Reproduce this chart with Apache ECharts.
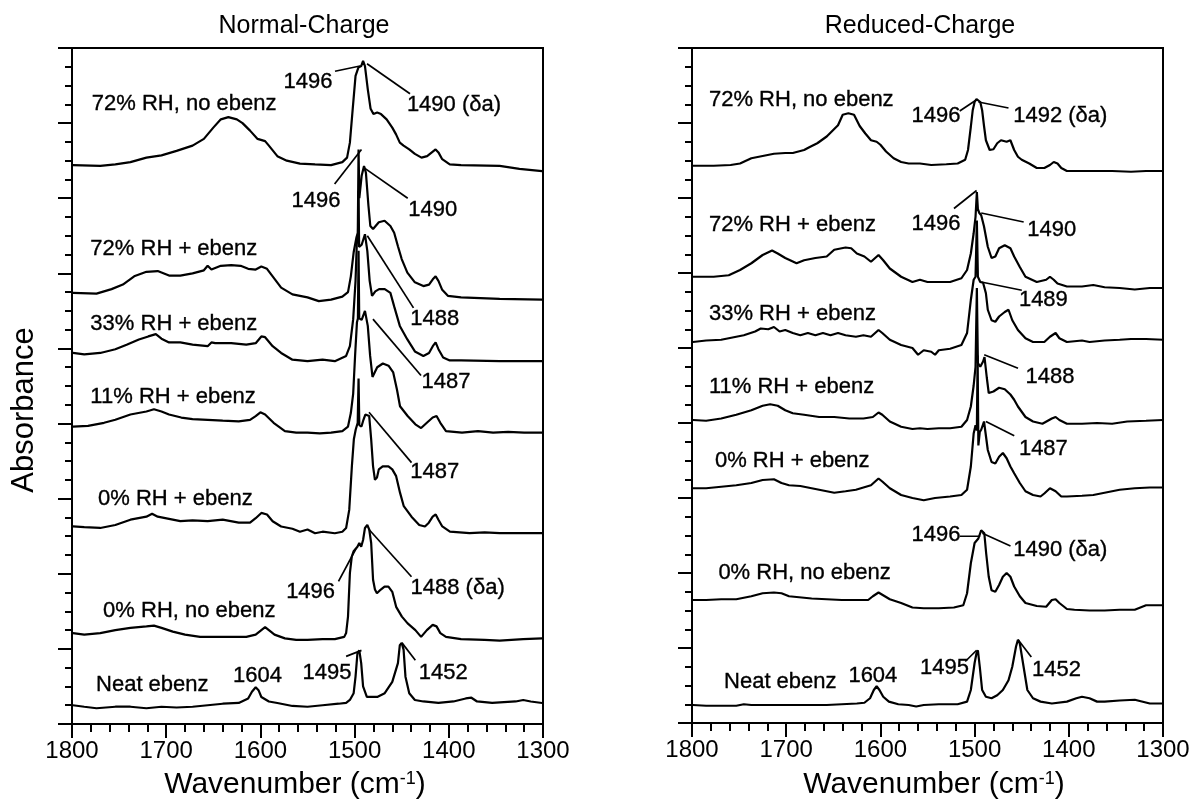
<!DOCTYPE html>
<html>
<head>
<meta charset="utf-8">
<script src="https://cdn.jsdelivr.net/npm/echarts@6/dist/echarts.min.js"></script>
<style>html,body{margin:0;padding:0;background:#fff}#chart{width:1193px;height:801px}</style>
</head>
<body>
<div id="chart"></div>
<script>
// ---------- DATA (wavenumber cm-1, stacked absorbance in axis units) ----------
const panelTitles = ['Normal-Charge', 'Reduced-Charge'];
const xTicks = [1800, 1700, 1600, 1500, 1400, 1300];

// Left panel: Normal-Charge
const N_72_noEbenz = [[1799,7.44],[1770,7.43],[1754,7.45],[1738,7.48],[1721,7.54],[1705,7.57],[1689,7.63],[1672,7.70],[1660,7.79],[1650,7.94],[1642,8.05],[1634,8.08],[1625,8.05],[1619,8.00],[1611,7.90],[1603,7.79],[1595,7.76],[1591,7.70],[1582,7.56],[1572,7.50],[1558,7.46],[1542,7.45],[1525,7.44],[1513,7.48],[1508,7.54],[1505,7.74],[1502,8.19],[1499,8.63],[1496,8.74],[1493,8.76],[1491,8.83],[1489,8.76],[1486,8.45],[1483,8.19],[1480,8.12],[1476,8.14],[1472,8.12],[1466,8.05],[1460,7.94],[1456,7.85],[1452,7.74],[1448,7.70],[1442,7.65],[1436,7.59],[1429,7.54],[1423,7.56],[1418,7.61],[1414,7.65],[1411,7.61],[1407,7.52],[1399,7.45],[1387,7.44],[1346,7.43],[1325,7.39],[1301,7.36]];
const N_72_ebenz = [[1799,5.74],[1774,5.73],[1758,5.79],[1746,5.85],[1734,5.96],[1721,6.02],[1709,6.03],[1697,5.97],[1685,5.97],[1672,6.00],[1660,6.04],[1656,6.10],[1652,6.05],[1642,6.10],[1631,6.11],[1621,6.10],[1613,6.06],[1605,6.05],[1599,6.09],[1593,6.06],[1587,5.96],[1578,5.81],[1566,5.72],[1550,5.68],[1538,5.63],[1525,5.65],[1513,5.69],[1507,5.75],[1504,5.96],[1501,6.28],[1498,6.48],[1496.6,6.54],[1495.8,7.65],[1495,7.0],[1492.5,7.3],[1490,7.43],[1488,7.34],[1485.3,6.9],[1483.3,6.63],[1480.4,6.59],[1474.3,6.68],[1468.2,6.70],[1462,6.63],[1458,6.54],[1454,6.36],[1450,6.19],[1444,6.01],[1436,5.88],[1427,5.83],[1421,5.85],[1417,5.92],[1414,5.96],[1411,5.90],[1407,5.78],[1401,5.70],[1387,5.68],[1346,5.66],[1301,5.65]];
const N_33_ebenz = [[1799,4.94],[1787,4.92],[1770,4.94],[1754,4.99],[1742,5.05],[1729,5.12],[1719,5.16],[1711,5.19],[1705,5.13],[1697,5.08],[1685,5.08],[1672,5.05],[1656,5.03],[1652,5.08],[1648,5.07],[1631,5.07],[1615,5.05],[1605,5.07],[1599,5.16],[1595,5.15],[1587,5.03],[1578,4.94],[1566,4.85],[1550,4.83],[1534,4.85],[1521,4.83],[1509,4.90],[1505,5.03],[1501.5,5.39],[1499,5.9],[1497.5,6.45],[1496.5,6.4],[1495.8,7.1],[1495.2,6.35],[1492.5,6.38],[1489,6.52],[1486.5,6.3],[1484,5.9],[1481.5,5.70],[1478,5.76],[1474,5.79],[1468,5.79],[1462,5.74],[1458,5.56],[1452,5.30],[1444,5.12],[1436,4.96],[1427,4.90],[1421,4.94],[1417,5.03],[1414,5.08],[1411,4.99],[1406,4.88],[1399,4.84],[1387,4.84],[1346,4.83],[1301,4.83]];
const N_11_ebenz = [[1799,3.96],[1783,3.97],[1766,4.01],[1754,4.05],[1738,4.12],[1721,4.16],[1713,4.19],[1705,4.16],[1697,4.12],[1684,4.08],[1672,4.06],[1656,4.05],[1640,4.04],[1623,4.03],[1611,4.05],[1605,4.10],[1600,4.15],[1595,4.12],[1586,4.01],[1574,3.90],[1562,3.88],[1550,3.88],[1537,3.87],[1525,3.88],[1513,3.90],[1507,3.96],[1504,4.14],[1501.5,4.4],[1499.5,4.9],[1497.5,5.35],[1496.5,5.4],[1495.8,6.3],[1495.1,5.4],[1492.5,5.38],[1489,5.5],[1486,5.3],[1483.5,4.9],[1481,4.62],[1476,4.75],[1470,4.80],[1464,4.77],[1459,4.68],[1455,4.45],[1451.8,4.23],[1443.7,4.10],[1435.5,3.99],[1429.4,3.94],[1423.3,4.01],[1417.1,4.08],[1413,4.10],[1409,4.01],[1403,3.90],[1386,3.88],[1369,3.90],[1353,3.88],[1337,3.89],[1320,3.88],[1301,3.88]];
const N_0_ebenz = [[1799,2.63],[1787,2.62],[1770,2.61],[1754,2.65],[1738,2.72],[1721,2.76],[1715,2.80],[1709,2.76],[1697,2.73],[1685,2.70],[1672,2.71],[1656,2.70],[1640,2.72],[1623,2.68],[1611,2.68],[1605,2.74],[1599,2.81],[1593,2.79],[1587,2.70],[1578,2.63],[1566,2.60],[1558,2.56],[1550,2.59],[1542,2.54],[1534,2.56],[1521,2.54],[1513,2.56],[1509,2.61],[1505.7,2.85],[1502.9,3.43],[1500.8,3.79],[1498.8,3.92],[1496.7,4.01],[1495.8,4.6],[1495,3.98],[1492.7,3.96],[1490.6,4.05],[1488.6,4.12],[1486.5,4.14],[1484.5,4.10],[1482.4,3.79],[1480.4,3.43],[1478.4,3.25],[1476.3,3.28],[1474.3,3.39],[1470.2,3.43],[1464.1,3.43],[1460,3.39],[1455.9,3.30],[1451.8,3.08],[1447.8,2.90],[1439.6,2.76],[1431.4,2.65],[1425.3,2.63],[1421.2,2.68],[1417.1,2.76],[1413.9,2.79],[1411,2.72],[1406.9,2.63],[1398.8,2.56],[1378,2.54],[1362,2.55],[1346,2.54],[1321,2.54],[1301,2.54]];
const N_0_noEbenz = [[1799,1.21],[1787,1.19],[1770,1.21],[1754,1.25],[1738,1.28],[1721,1.30],[1713,1.31],[1705,1.28],[1693,1.23],[1680,1.19],[1664,1.16],[1648,1.16],[1631,1.16],[1615,1.16],[1605,1.19],[1599,1.25],[1595,1.29],[1591,1.25],[1585,1.19],[1574,1.14],[1562,1.12],[1550,1.12],[1534,1.13],[1521,1.13],[1511,1.16],[1509,1.21],[1507,1.43],[1505,2.01],[1503,2.23],[1501,2.30],[1499,2.32],[1497,2.36],[1495,2.41],[1493,2.36],[1491,2.45],[1489,2.61],[1486.5,2.65],[1484.5,2.59],[1482.4,2.41],[1480.4,1.92],[1478.4,1.79],[1476.3,1.74],[1472.2,1.79],[1468.2,1.83],[1464.1,1.83],[1460,1.76],[1455.9,1.56],[1449.8,1.43],[1443.7,1.34],[1435.5,1.25],[1429.4,1.16],[1423.3,1.25],[1417.1,1.32],[1413,1.30],[1409,1.21],[1403,1.16],[1387,1.13],[1362,1.12],[1346,1.11],[1321,1.13],[1301,1.14]];
const N_neat = [[1799,0.25],[1787,0.23],[1774,0.21],[1754,0.23],[1738,0.23],[1721,0.21],[1705,0.23],[1689,0.22],[1672,0.23],[1656,0.25],[1640,0.27],[1623,0.28],[1613,0.34],[1609,0.43],[1605,0.49],[1602,0.45],[1599,0.36],[1591,0.30],[1582,0.28],[1566,0.24],[1550,0.23],[1534,0.25],[1517,0.27],[1509,0.28],[1505,0.32],[1501,0.41],[1499,0.63],[1497,0.94],[1495,0.98],[1493,0.81],[1491,0.50],[1487,0.36],[1476,0.36],[1468,0.41],[1460,0.56],[1454,0.81],[1452,1.05],[1450,1.08],[1448,0.99],[1446,0.63],[1442,0.41],[1436,0.32],[1427,0.30],[1411,0.28],[1395,0.30],[1382,0.34],[1376,0.35],[1370,0.30],[1354,0.28],[1329,0.30],[1321,0.32],[1313,0.30],[1301,0.28]];

// Right panel: Reduced-Charge
const R_72_noEbenz = [[1799,7.43],[1777,7.43],[1759,7.44],[1749,7.46],[1737,7.53],[1725,7.56],[1713,7.59],[1701,7.60],[1693,7.60],[1691,7.62],[1681,7.64],[1675,7.68],[1667,7.73],[1657,7.82],[1645,7.97],[1640,8.11],[1634,8.13],[1628,8.11],[1622,7.96],[1616,7.86],[1610,7.77],[1604,7.75],[1600,7.71],[1594,7.62],[1586,7.53],[1578,7.48],[1570,7.46],[1558,7.46],[1546,7.44],[1530,7.45],[1518,7.46],[1510,7.51],[1507,7.64],[1504,7.95],[1502,8.17],[1500,8.28],[1498,8.32],[1496,8.31],[1494,8.28],[1492,8.17],[1490,7.96],[1488,7.77],[1484,7.64],[1480,7.65],[1476,7.73],[1472,7.77],[1466,7.75],[1462,7.77],[1458,7.64],[1454,7.55],[1450,7.51],[1442,7.46],[1434,7.40],[1426,7.40],[1420,7.44],[1416,7.48],[1412,7.46],[1408,7.40],[1402,7.36],[1378,7.36],[1354,7.36],[1334,7.35],[1318,7.36],[1300,7.36]];
const R_72_ebenz = [[1799,5.95],[1777,5.95],[1761,5.97],[1749,6.04],[1737,6.13],[1725,6.24],[1715,6.30],[1709,6.26],[1701,6.20],[1689,6.13],[1681,6.17],[1669,6.20],[1657,6.22],[1649,6.31],[1637,6.34],[1631,6.33],[1625,6.26],[1617,6.22],[1610,6.15],[1602,6.24],[1597,6.17],[1590,6.06],[1578,5.95],[1566,5.88],[1558,5.91],[1550,5.88],[1538,5.88],[1526,5.88],[1514,5.93],[1508,6.04],[1504,6.26],[1501,6.53],[1499,6.75],[1497.6,7.08],[1496.5,6.85],[1495,6.80],[1493,6.77],[1490,6.62],[1486,6.35],[1482,6.20],[1478,6.22],[1474,6.33],[1468,6.37],[1462,6.33],[1458,6.22],[1452,6.08],[1446,5.95],[1434,5.88],[1424,5.91],[1420,5.95],[1416,5.91],[1412,5.86],[1402,5.82],[1386,5.82],[1374,5.84],[1362,5.81],[1346,5.80],[1330,5.78],[1314,5.80],[1300,5.80]];
const R_33_ebenz = [[1799,5.08],[1785,5.10],[1769,5.11],[1757,5.14],[1745,5.17],[1733,5.22],[1727,5.26],[1719,5.25],[1713,5.28],[1707,5.22],[1701,5.24],[1693,5.20],[1685,5.17],[1677,5.20],[1669,5.17],[1661,5.20],[1653,5.17],[1645,5.20],[1637,5.17],[1626,5.15],[1618,5.17],[1610,5.15],[1602,5.24],[1598,5.20],[1590,5.11],[1578,5.04],[1566,5.00],[1560,4.91],[1554,4.97],[1546,4.95],[1542,4.91],[1538,4.97],[1526,4.99],[1514,5.04],[1508,5.20],[1504,5.64],[1501,5.91],[1499,5.95],[1497.6,6.7],[1496.5,5.95],[1494,5.88],[1491,5.87],[1489,5.86],[1488,5.73],[1486,5.51],[1482,5.37],[1478,5.35],[1474,5.42],[1468,5.48],[1464,5.51],[1460,5.37],[1454,5.24],[1446,5.13],[1438,5.08],[1426,5.08],[1420,5.15],[1414,5.20],[1410,5.13],[1402,5.08],[1386,5.10],[1378,5.08],[1362,5.10],[1346,5.11],[1334,5.12],[1318,5.12],[1300,5.11]];
const R_11_ebenz = [[1799,4.04],[1785,4.03],[1769,4.06],[1753,4.11],[1737,4.17],[1725,4.23],[1717,4.25],[1709,4.23],[1701,4.17],[1693,4.13],[1681,4.11],[1665,4.08],[1649,4.08],[1633,4.06],[1618,4.06],[1608,4.08],[1602,4.14],[1598,4.11],[1590,4.02],[1578,3.95],[1566,3.92],[1558,3.93],[1550,3.92],[1538,3.93],[1526,3.93],[1514,3.95],[1508,4.04],[1504,4.22],[1501,4.50],[1499,4.75],[1497.6,5.8],[1496.5,4.8],[1494,4.75],[1491,4.82],[1489.5,4.88],[1487,4.60],[1485,4.40],[1480,4.42],[1474,4.47],[1468,4.45],[1462,4.38],[1458,4.31],[1454,4.22],[1446,4.08],[1438,4.02],[1428,3.99],[1418,4.06],[1414,4.08],[1410,4.04],[1402,3.99],[1386,3.99],[1370,4.00],[1354,3.99],[1338,4.02],[1318,4.03],[1300,4.04]];
const R_0_ebenz = [[1799,3.13],[1785,3.13],[1769,3.15],[1753,3.17],[1737,3.20],[1725,3.24],[1713,3.25],[1705,3.20],[1697,3.17],[1685,3.16],[1673,3.13],[1661,3.10],[1649,3.07],[1637,3.09],[1626,3.11],[1618,3.14],[1610,3.17],[1602,3.26],[1598,3.22],[1590,3.13],[1578,3.04],[1566,3.00],[1554,2.97],[1542,3.00],[1526,3.02],[1514,3.04],[1508,3.11],[1504,3.42],[1501,3.86],[1499,3.97],[1497.6,3.90],[1496.8,4.9],[1496,3.70],[1494.5,3.88],[1493,3.91],[1490,4.02],[1486,3.64],[1482,3.48],[1478,3.46],[1474,3.55],[1470,3.60],[1466,3.53],[1462,3.42],[1458,3.33],[1452,3.20],[1446,3.09],[1438,3.04],[1430,3.02],[1426,3.06],[1420,3.13],[1414,3.09],[1408,3.02],[1402,3.02],[1386,3.03],[1374,3.04],[1362,3.07],[1346,3.11],[1330,3.13],[1314,3.14],[1300,3.14]];
const R_0_noEbenz = [[1799,1.64],[1785,1.64],[1769,1.65],[1753,1.65],[1737,1.69],[1725,1.73],[1713,1.74],[1705,1.73],[1697,1.69],[1689,1.68],[1673,1.66],[1657,1.65],[1641,1.64],[1625,1.64],[1613,1.64],[1608,1.69],[1602,1.74],[1598,1.71],[1590,1.65],[1578,1.60],[1566,1.54],[1554,1.53],[1538,1.53],[1522,1.54],[1512,1.57],[1508,1.73],[1504,2.13],[1500,2.40],[1496,2.46],[1493,2.57],[1491.7,2.58],[1489.7,2.53],[1487.7,2.26],[1485,1.95],[1482,1.77],[1478,1.75],[1474,1.84],[1470,1.95],[1466,2.00],[1462,1.95],[1458,1.82],[1452,1.69],[1446,1.60],[1434,1.56],[1424,1.55],[1418,1.64],[1414,1.65],[1410,1.60],[1402,1.52],[1394,1.51],[1378,1.50],[1362,1.50],[1346,1.51],[1330,1.51],[1318,1.57],[1300,1.57]];
const R_neat = [[1799,0.24],[1785,0.23],[1769,0.23],[1753,0.23],[1745,0.25],[1737,0.24],[1721,0.24],[1697,0.24],[1673,0.24],[1657,0.24],[1641,0.25],[1625,0.26],[1617,0.27],[1611,0.33],[1607,0.44],[1604,0.49],[1601,0.44],[1597,0.35],[1591,0.285],[1581,0.25],[1570,0.24],[1562,0.22],[1554,0.24],[1538,0.25],[1518,0.25],[1508,0.285],[1504,0.44],[1500,0.80],[1498,0.93],[1496.5,0.97],[1494.5,0.75],[1492,0.44],[1488,0.35],[1482,0.33],[1476,0.37],[1470,0.44],[1464,0.57],[1460,0.75],[1456,1.02],[1454,1.11],[1452,1.06],[1448,0.75],[1444,0.44],[1438,0.33],[1430,0.285],[1418,0.26],[1402,0.285],[1392,0.33],[1386,0.35],[1378,0.33],[1370,0.285],[1362,0.285],[1346,0.30],[1330,0.31],[1314,0.26],[1300,0.26]];

// Annotations: [text, wavenumber, value, align]
const N_labels = [
  ['72% RH, no ebenz',1779,8.25,'left'],['1496',1549.5,8.55],['1490 (δa)',1394.5,8.24],
  ['1496',1541,6.96],['1490',1417,6.84],['72% RH + ebenz',1780.5,6.33,'left'],
  ['1488',1415,5.39],['33% RH + ebenz',1780.5,5.32,'left'],['1487',1403,4.55],
  ['11% RH + ebenz',1780.5,4.36,'left'],['1487',1415,3.36],['0% RH + ebenz',1772.4,2.99,'left'],
  ['1496',1546.7,1.76],['1488 (δa)',1390.6,1.81],['0% RH, no ebenz',1767,1.51,'left'],
  ['Neat ebenz',1774.5,0.52,'left'],['1604',1603,0.64],['1495',1529.3,0.68],['1452',1406,0.68]
];
const N_leaders = [
  [[1520.8,8.69],[1494.3,8.76]],[[1486.8,8.79],[1441.2,8.39]],[[1521.2,7.19],[1492.7,7.65]],
  [[1490.6,7.41],[1443.6,7.0]],[[1486.5,6.5],[1437.5,5.54]],[[1480.5,5.39],[1429.5,4.64]],
  [[1484.7,4.15],[1439.6,3.48]],[[1517.1,1.9],[1498.7,2.33]],[[1484.7,2.59],[1439.6,1.96]],
  [[1509,0.9],[1492.7,0.98]],[[1435.5,0.85],[1449.7,1.08]]
];
const R_labels = [
  ['72% RH, no ebenz',1782,8.31,'left'],['1496',1541,8.09],['1492 (δa)',1409,8.09],
  ['72% RH + ebenz',1782,6.64,'left'],['1496',1541,6.65],['1490',1418,6.57],
  ['1489',1427,5.64],['33% RH + ebenz',1782,5.46,'left'],['1488',1420,4.62],
  ['11% RH + ebenz',1782,4.48,'left'],['1487',1427,3.66],['0% RH + ebenz',1775.7,3.5,'left'],
  ['1496',1541,2.51],['1490 (δa)',1409,2.31],['0% RH, no ebenz',1772,2.0,'left'],
  ['Neat ebenz',1766,0.55,'left'],['1604',1608,0.63],['1495',1532,0.73],['1452',1413,0.71]
];
const R_leaders = [
  [[1515.8,8.16],[1497.9,8.31]],[[1495.9,8.28],[1464,8.2]],[[1521.9,6.86],[1497.9,7.1]],
  [[1493,6.8],[1447.9,6.68]],[[1493,5.88],[1449.9,5.77]],[[1489.8,4.91],[1453.9,4.73]],
  [[1488,4.02],[1457.9,3.83]],[[1515.8,2.49],[1494,2.49]],[[1491.8,2.53],[1461.9,2.36]],
  [[1509.9,0.82],[1497.9,0.97]],[[1439.8,0.88],[1453.8,1.11]]
];

// ---------- CHART ----------
const FONT = '"Liberation Sans", Arial, Helvetica, sans-serif';
const chart = echarts.init(document.getElementById('chart'), null, {renderer: 'canvas'});

function xAxisDef(gi) {
  return {
    type: 'value', gridIndex: gi, min: 1300, max: 1800, interval: 100, inverse: true,
    axisLine: {show: true, onZero: false, lineStyle: {color: '#000', width: 2}},
    axisTick: {show: true, inside: false, length: 14, lineStyle: {color: '#000', width: 2}},
    minorTick: {show: true, splitNumber: 5, length: 8, lineStyle: {color: '#000', width: 2}},
    axisLabel: {show: true, margin: 15, color: '#000', fontSize: 24, fontFamily: FONT,
      formatter: v => xTicks.includes(v) ? String(v) : ''},
    splitLine: {show: false}, minorSplitLine: {show: false}
  };
}
function yAxisDef(gi) {
  return {
    type: 'value', gridIndex: gi, min: 0, max: 9, interval: 1,
    axisLine: {show: true, onZero: false, lineStyle: {color: '#000', width: 2}},
    axisTick: {show: true, inside: false, length: 14, lineStyle: {color: '#000', width: 2}},
    minorTick: {show: true, splitNumber: 4, length: 7, lineStyle: {color: '#000', width: 2}},
    axisLabel: {show: false}, splitLine: {show: false}, minorSplitLine: {show: false}
  };
}
function curve(data, gi) {
  return {type: 'line', xAxisIndex: gi, yAxisIndex: gi, data: data, symbol: 'none', showSymbol: false,
    lineStyle: {color: '#000', width: 2.2}, silent: true, animation: false, z: 3};
}
function leader(seg, gi) {
  return {type: 'line', xAxisIndex: gi, yAxisIndex: gi, data: seg, symbol: 'none', showSymbol: false,
    lineStyle: {color: '#000', width: 1.7}, silent: true, animation: false, z: 3};
}
function labels(list, gi) {
  return {type: 'scatter', xAxisIndex: gi, yAxisIndex: gi, symbolSize: 1,
    itemStyle: {color: '#fff', opacity: 0}, silent: true, animation: false, z: 4,
    label: {show: true, position: 'inside', color: '#000', opacity: 1, fontSize: 22, fontFamily: FONT,
      verticalAlign: 'middle', textBorderWidth: 0.35, textBorderColor: '#000'},
    data: list.map(l => ({value: [l[1], l[2]], label: {formatter: l[0], align: l[3] || 'center'}}))};
}

const series = [];
[N_72_noEbenz, N_72_ebenz, N_33_ebenz, N_11_ebenz, N_0_ebenz, N_0_noEbenz, N_neat].forEach(d => series.push(curve(d, 0)));
[R_72_noEbenz, R_72_ebenz, R_33_ebenz, R_11_ebenz, R_0_ebenz, R_0_noEbenz, R_neat].forEach(d => series.push(curve(d, 1)));
N_leaders.forEach(s => series.push(leader(s, 0)));
R_leaders.forEach(s => series.push(leader(s, 1)));
series.push(labels(N_labels, 0));
series.push(labels(R_labels, 1));

const axisTitle = {
  text: 'Wavenumber (cm{sup|-1})',
  fontSize: 30, fontFamily: FONT, fill: '#000', align: 'center', verticalAlign: 'middle',
  rich: {sup: {fontSize: 18, fontFamily: FONT, verticalAlign: 'top', fill: '#000'}}
};

chart.setOption({
  animation: false,
  backgroundColor: '#fff',
  grid: [
    {left: 72, right: 650, top: 48, bottom: 77, show: true, borderColor: '#000', borderWidth: 2, backgroundColor: 'transparent'},
    {left: 692, right: 30, top: 48, bottom: 78, show: true, borderColor: '#000', borderWidth: 2, backgroundColor: 'transparent'}
  ],
  xAxis: [xAxisDef(0), xAxisDef(1)],
  yAxis: [yAxisDef(0), yAxisDef(1)],
  series: series,
  graphic: [
    {type: 'text', x: 304, y: 26, style: {text: panelTitles[0], fontSize: 25, fontFamily: FONT, fill: '#000', align: 'center', verticalAlign: 'middle'}},
    {type: 'text', x: 920, y: 26, style: {text: panelTitles[1], fontSize: 25, fontFamily: FONT, fill: '#000', align: 'center', verticalAlign: 'middle'}},
    {type: 'text', x: 295, y: 785, style: Object.assign({}, axisTitle)},
    {type: 'text', x: 934, y: 785, style: Object.assign({}, axisTitle)},
    {type: 'text', x: 24, y: 410, rotation: Math.PI / 2, style: {text: 'Absorbance', fontSize: 31, fontFamily: FONT, fill: '#000', align: 'center', verticalAlign: 'middle'}}
  ]
});
</script>
</body>
</html>
